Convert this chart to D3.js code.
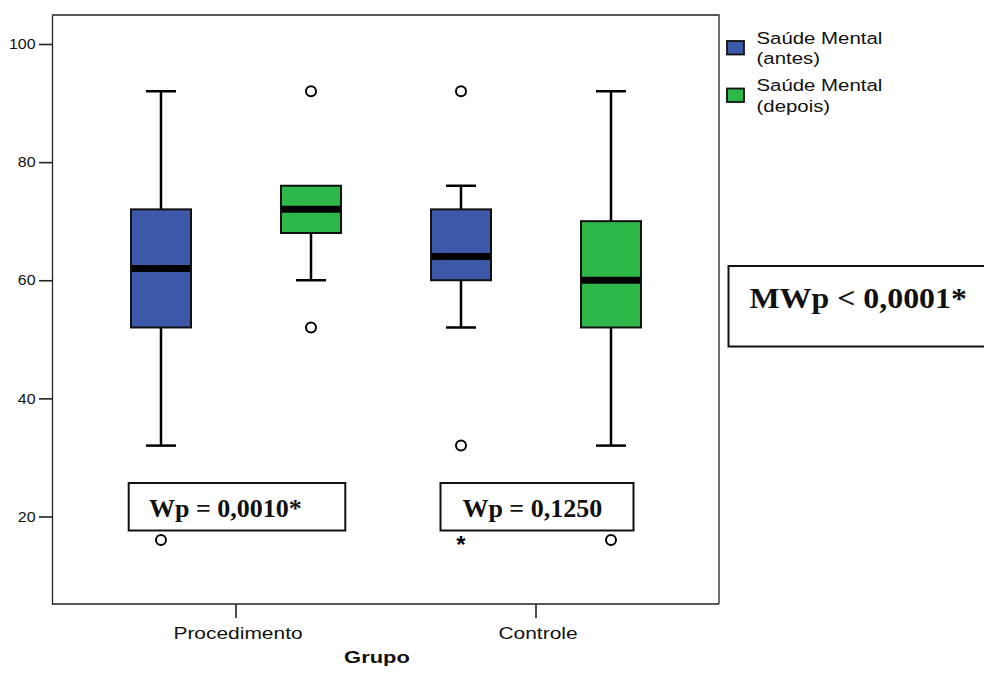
<!DOCTYPE html>
<html>
<head>
<meta charset="utf-8">
<script src="https://cdn.jsdelivr.net/npm/d3@7"></script>
<style>
  html, body { margin: 0; padding: 0; background: #fff; }
  svg { display: block; }
</style>
</head>
<body>
<svg id="chart" width="984" height="675"></svg>
<script>
// ---------- data ----------
const categories = ["Procedimento", "Controle"];
const seriesNames = ["Saúde Mental (antes)", "Saúde Mental (depois)"];
const legendLines = [["Saúde Mental", "(antes)"], ["Saúde Mental", "(depois)"]];
const yTicks = [20, 40, 60, 80, 100];

const antesMin = [32, 52];
const antesQ1 = [52, 60];
const antesMedian = [62, 64];
const antesQ3 = [72, 72];
const antesMax = [92, 76];
const antesOutliers = [[16], [92, 32]];
const antesExtremes = [[], [16]];

const depoisMin = [60, 32];
const depoisQ1 = [68, 52];
const depoisMedian = [72, 60];
const depoisQ3 = [76, 70];
const depoisMax = [76, 92];
const depoisOutliers = [[92, 52], [16]];
const depoisExtremes = [[], []];

const wpLabels = ["Wp = 0,0010*", "Wp = 0,1250"];
const mwLabel = "MWp < 0,0001*";
const xTitle = "Grupo";

// ---------- layout ----------
const svg = d3.select("#chart");
const plot = { left: 52, right: 719, top: 15, bottom: 604 };
const colors = ["#3e58a9", "#2fb84a"];
const sans = "'Liberation Sans', Arial, sans-serif";
const serif = "'Liberation Serif', 'Times New Roman', serif";

const y = d3.scaleLinear().domain([5.18, 104.91]).range([plot.bottom, plot.top]);
const x = d3.scaleBand().domain(categories).range([86, 686]).padding(0);
const xs = d3.scaleBand().domain(seriesNames).range([0, x.bandwidth()])
  .paddingInner(0.6).paddingOuter(0.3);

const seriesData = [
  { name: seriesNames[0], min: antesMin, q1: antesQ1, med: antesMedian, q3: antesQ3, max: antesMax, out: antesOutliers, ext: antesExtremes },
  { name: seriesNames[1], min: depoisMin, q1: depoisQ1, med: depoisMedian, q3: depoisQ3, max: depoisMax, out: depoisOutliers, ext: depoisExtremes }
];

// frame (top + right)
svg.append("path")
  .attr("d", `M${plot.left},${plot.top}H${plot.right}V${plot.bottom}`)
  .attr("fill", "none").attr("stroke", "#222").attr("stroke-width", 1.3);

// y axis
const yAxis = svg.append("g")
  .attr("transform", `translate(${plot.left},0)`)
  .call(d3.axisLeft(y).tickValues(yTicks).tickSize(13).tickSizeOuter(0).tickPadding(2));
yAxis.select(".domain").attr("stroke", "#222").attr("stroke-width", 1.3);
yAxis.selectAll(".tick line").attr("stroke", "#222").attr("stroke-width", 1.6);
yAxis.selectAll(".tick text")
  .attr("font-family", sans).attr("font-size", 14.5).attr("fill", "#111")
  .attr("transform", "scale(1.1,1)");

// x axis
const xAxis = svg.append("g")
  .attr("transform", `translate(0,${plot.bottom})`)
  .call(d3.axisBottom(x).tickSize(14).tickSizeOuter(0).tickPadding(9));
xAxis.select(".domain").attr("stroke", "#222").attr("stroke-width", 1.3)
  .attr("d", `M${plot.left},0H${plot.right}`);
xAxis.selectAll(".tick line").attr("stroke", "#222").attr("stroke-width", 1.6);
xAxis.selectAll(".tick text")
  .attr("font-family", sans).attr("font-size", 16.5).attr("fill", "#111")
  .attr("transform", "translate(2,0) scale(1.27,1)");

// x title
svg.append("text")
  .attr("transform", `translate(377,663) scale(1.33,1)`)
  .attr("text-anchor", "middle")
  .attr("font-family", sans).attr("font-size", 16.5).attr("font-weight", "bold")
  .attr("fill", "#111")
  .text(xTitle);

// ---------- boxplots ----------
const bw = xs.bandwidth();
seriesData.forEach((s, si) => {
  categories.forEach((c, ci) => {
    const x0 = x(c) + xs(s.name);
    const cx = x0 + bw / 2;
    const g = svg.append("g");
    // whiskers
    if (s.max[ci] > s.q3[ci]) {
      g.append("line").attr("x1", cx).attr("x2", cx)
        .attr("y1", y(s.max[ci])).attr("y2", y(s.q3[ci]))
        .attr("stroke", "#000").attr("stroke-width", 2.5);
      g.append("line").attr("x1", cx - bw / 4).attr("x2", cx + bw / 4)
        .attr("y1", y(s.max[ci])).attr("y2", y(s.max[ci]))
        .attr("stroke", "#000").attr("stroke-width", 2.5);
    }
    if (s.min[ci] < s.q1[ci]) {
      g.append("line").attr("x1", cx).attr("x2", cx)
        .attr("y1", y(s.q1[ci])).attr("y2", y(s.min[ci]))
        .attr("stroke", "#000").attr("stroke-width", 2.5);
      g.append("line").attr("x1", cx - bw / 4).attr("x2", cx + bw / 4)
        .attr("y1", y(s.min[ci])).attr("y2", y(s.min[ci]))
        .attr("stroke", "#000").attr("stroke-width", 2.5);
    }
    // box
    g.append("rect")
      .attr("x", x0).attr("width", bw)
      .attr("y", y(s.q3[ci])).attr("height", y(s.q1[ci]) - y(s.q3[ci]))
      .attr("fill", colors[si]).attr("stroke", "#111").attr("stroke-width", 2);
    // median
    g.append("line").attr("x1", x0 + 1).attr("x2", x0 + bw - 1)
      .attr("y1", y(s.med[ci])).attr("y2", y(s.med[ci]))
      .attr("stroke", "#000").attr("stroke-width", 7);
    // outliers
    s.out[ci].forEach(v => {
      g.append("circle").attr("cx", cx).attr("cy", y(v)).attr("r", 5)
        .attr("fill", "#fff").attr("stroke", "#000").attr("stroke-width", 2);
    });
    // extremes
    s.ext[ci].forEach(v => {
      g.append("text").attr("x", cx).attr("y", y(v) + 13)
        .attr("text-anchor", "middle")
        .attr("font-family", sans).attr("font-size", 24).attr("font-weight", "bold")
        .attr("fill", "#000")
        .text("*");
    });
  });
});

// ---------- Wilcoxon annotation boxes ----------
const wpBoxes = [
  { w: 216.6, textOffset: -87.9 },
  { w: 193, textOffset: -74.6 }
];
categories.forEach((c, ci) => {
  const cx = x(c) + x.bandwidth() / 2 + 1;
  const b = wpBoxes[ci];
  svg.append("rect")
    .attr("x", cx - b.w / 2).attr("y", 483).attr("width", b.w).attr("height", 47.5)
    .attr("fill", "#fff").attr("stroke", "#111").attr("stroke-width", 2);
  svg.append("text")
    .attr("x", cx + b.textOffset).attr("y", 517)
    .attr("font-family", serif).attr("font-size", 26).attr("font-weight", "bold")
    .attr("fill", "#111")
    .text(wpLabels[ci]);
});

// ---------- Mann-Whitney box ----------
svg.append("rect")
  .attr("x", 728.5).attr("y", 266).attr("width", 300).attr("height", 80.5)
  .attr("fill", "#fff").attr("stroke", "#111").attr("stroke-width", 2);
svg.append("text")
  .attr("transform", "translate(749.5,307.5) scale(1.1,1)")
  .attr("font-family", serif).attr("font-size", 29).attr("font-weight", "bold")
  .attr("fill", "#111")
  .text(mwLabel);

// ---------- legend ----------
const legend = svg.append("g").attr("transform", "translate(727,41)");
seriesNames.forEach((n, i) => {
  const g = legend.append("g").attr("transform", `translate(0,${i * 47.5})`);
  g.append("rect").attr("x", 0).attr("y", 0).attr("width", 17).attr("height", 13.5)
    .attr("fill", colors[i]).attr("stroke", "#111").attr("stroke-width", 1.8);
  legendLines[i].forEach((line, li) => {
    g.append("text")
      .attr("transform", `translate(29.5,${2.5 + li * 20.5}) scale(1.2,1)`)
      .attr("font-family", sans).attr("font-size", 17).attr("fill", "#111")
      .text(line);
  });
});
</script>
</body>
</html>
